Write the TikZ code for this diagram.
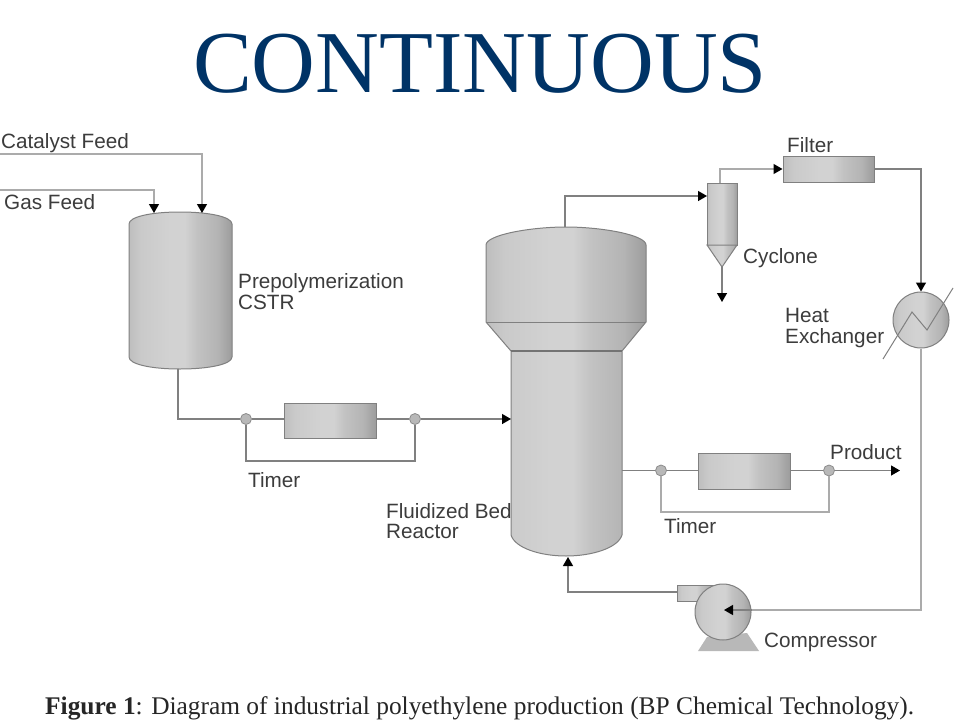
\documentclass[tikz,border=0pt]{standalone}
\usepackage{fontspec}
\setmainfont{Liberation Serif}
\newfontfamily\lblfont{Liberation Sans}
\usetikzlibrary{arrows.meta}
\definecolor{vA}{HTML}{BEBEBE}
\definecolor{vB}{HTML}{CACACA}
\definecolor{vC}{HTML}{D2D2D2}
\definecolor{vD}{HTML}{C2C2C2}
\definecolor{vE}{HTML}{B4B4B4}
\definecolor{vF}{HTML}{9C9C9C}
\pgfdeclarehorizontalshading{vessel}{100bp}{
 color(0bp)=(vA); color(25bp)=(vA); color(31bp)=(vB); color(45bp)=(vC); color(52bp)=(vC);
 color(58bp)=(vD); color(68bp)=(vE); color(75bp)=(vF); color(100bp)=(vF)}
\definecolor{titleblue}{HTML}{003366}
\definecolor{pipe}{HTML}{808080}
\definecolor{pipelight}{HTML}{ABABAB}
\definecolor{lbl}{HTML}{3C3C3C}
\tikzset{
 vesselshape/.style={draw=black!50,line width=1pt,shading=vessel},
 pipeline/.style={draw=pipe,line width=1.3pt},
 lightpipe/.style={draw=pipelight,line width=1.2pt},
 flow/.style={-{Triangle[length=9pt,width=10pt,black]}},
 boxunit/.style={rectangle,draw=black!50,line width=1pt,shading=vessel,inner sep=0pt},
 valve/.style={circle,draw=black!45,line width=.8pt,fill=black!28,minimum size=11pt,inner sep=0pt},
 lab/.style={anchor=base west,inner sep=0pt,text=lbl,font=\lblfont\fontsize{20.7}{24}\selectfont},
}
\begin{document}
\begin{tikzpicture}[x=1pt,y=-1pt]
\useasboundingbox[fill=white] (0,0) rectangle (960,720);
% title and caption
\node[anchor=base,inner sep=0pt,text=titleblue,font=\fontsize{88.3}{100}\selectfont] (title) at (480,92) {CONTINUOUS};
\node[anchor=base west,inner sep=0pt,text=black!85,font=\fontsize{25.4}{28}\selectfont] (caption) at (45,714) {\textbf{Figure 1}: Diagram of industrial polyethylene production (BP Chemical Technology).};
% free ends and ports
\coordinate (catin) at (0,154);
\coordinate (gasin) at (0,190);
\coordinate (cstrgas) at (154,213);
\coordinate (cstrcat) at (202,213);
\coordinate (cstrout) at (178,369);
\coordinate (rxin) at (511,419);
\coordinate (rxtop) at (565,227);
\coordinate (rxout) at (622,470.5);
\coordinate (rxbot) at (568,557);
\coordinate (cycin) at (707,196);
\coordinate (cyctop) at (720,183);
\coordinate (cycbot) at (722,267);
\coordinate (cycdrop) at (722,302);
\coordinate (prodend) at (900,470.5);
\coordinate (cmpin) at (724,610);
\coordinate (cmpout) at (677,592);
% vessels
\path[vesselshape] (129,224) .. controls (129,217) and (150,212) .. (180,212)
  .. controls (210,212) and (232,217) .. (232,224) -- (232,357)
  .. controls (232,364) and (210,369) .. (180,369)
  .. controls (150,369) and (129,364) .. (129,357) -- cycle;
\path[vesselshape] (486,245) .. controls (486,235) and (530,227) .. (566,227)
  .. controls (602,227) and (646,235) .. (646,245) -- (646,322) -- (622,351)
  -- (622,535) .. controls (618,548) and (592,556) .. (566,556)
  .. controls (540,556) and (515,548) .. (511,535) -- (511,351) -- (486,322) -- cycle;
\draw[black!50,line width=1pt] (486,322) -- (646,322);
\draw[black!55,line width=1.2pt] (511,351) -- (622,351);
% cyclone
\path[vesselshape] (707,183) rectangle (737,245);
\path[vesselshape] (707,245) -- (737,245) -- (722,267) -- cycle;
% boxes
\node[boxunit,minimum width=92pt,minimum height=35pt] (timerA) at (330,420.5) {};
\node[boxunit,minimum width=92pt,minimum height=36pt] (timerB) at (744,471) {};
\node[boxunit,minimum width=91pt,minimum height=26pt] (filter) at (828.5,169) {};
% compressor
\path[fill=black!28] (698,651) -- (707,637) -- (747,633) -- (759,651) -- cycle;
\path[vesselshape] (677,585) rectangle (713,601);
\node[circle,vesselshape,minimum size=56pt,inner sep=0pt] (comp) at (723,612) {};
% heat exchanger
\node[circle,vesselshape,minimum size=56pt,inner sep=0pt] (hx) at (921,320) {};
\coordinate (hxa) at (883,359);
\coordinate (hxb) at (953,288);
\draw[black!50,line width=1pt] (hxa) -- (912,312) -- (927,330) -- (hxb);
% valves
\node[valve] (v1) at (246,419) {};
\node[valve] (v2) at (415,419) {};
\node[valve] (v3) at (661,470.5) {};
\node[valve] (v4) at (829,470.5) {};
% connectors
\draw[lightpipe,flow] (catin) -| (cstrcat);
\draw[lightpipe,flow] (gasin) -| (cstrgas);
\draw[pipeline] (cstrout) |- (v1.west);
\draw[pipeline] (v1.east) -- (v1.east -| timerA.west);
\draw[pipeline] (v2.west -| timerA.east) -- (v2.west);
\draw[pipeline,flow] (v2.east) -- (rxin);
\draw[pipeline] (v1.south) |- (246,461) -| (v2.south);
\draw[pipeline,flow] (rxtop) |- (cycin);
\draw[lightpipe,flow] (cyctop) |- (filter.west);
\draw[pipeline,flow] (cycbot) -- (cycdrop);
\draw[pipeline,flow] (filter.east) -| (hx.north);
\draw[lightpipe,line width=1.4pt] (hx.south) |- (comp.east |- cmpin);
\draw[pipeline,flow] (comp.east |- cmpin) -- (cmpin);
\draw[pipeline,flow] (cmpout) -| (rxbot);
\draw[pipeline] (rxout) -- (v3.west);
\draw[pipeline] (v3.east) -- (v3.east -| timerB.west);
\draw[pipeline] (v4.west -| timerB.east) -- (v4.west);
\draw[pipeline,flow] (v4.east) -- (prodend);
\draw[lightpipe] (v3.south) |- (661,512) -| (v4.south);
% labels
\node[lab] (l1) at (1,148) {Catalyst Feed};
\node[lab] (l2) at (4,209) {Gas Feed};
\node[lab] (l3) at (238,288) {Prepolymerization};
\node[lab] (l4) at (238,309) {CSTR};
\node[lab] (l5) at (248,487) {Timer};
\node[lab] (l6) at (386,518) {Fluidized Bed};
\node[lab] (l7) at (386,538) {Reactor};
\node[lab] (l8) at (787,152) {Filter};
\node[lab] (l9) at (743,263) {Cyclone};
\node[lab] (l10) at (785,322) {Heat};
\node[lab] (l11) at (785,343) {Exchanger};
\node[lab] (l12) at (830,459) {Product};
\node[lab] (l13) at (664,533) {Timer};
\node[lab] (l14) at (764,647) {Compressor};
\end{tikzpicture}
\end{document}
